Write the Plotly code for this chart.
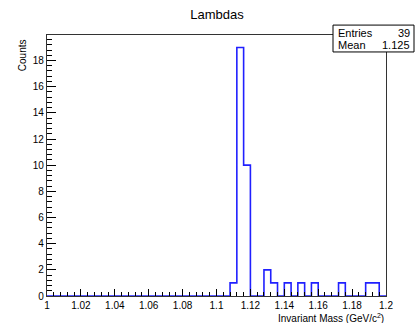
import plotly.graph_objects as go

# Histogram definition: 50 bins between 1.0 and 1.2 GeV/c^2
x_min = 1.0
x_max = 1.2
n_bins = 50
counts = [0] * 27 + [1, 19, 10, 0, 0, 2, 1, 0, 1, 0, 1, 0, 1, 0, 0, 0, 1, 0, 0, 0, 1, 1, 0, 0]

entries = 39
mean = 1.125

x_tick_vals = [1.0, 1.02, 1.04, 1.06, 1.08, 1.1, 1.12, 1.14, 1.16, 1.18, 1.2]
x_tick_text = ["1", "1.02", "1.04", "1.06", "1.08", "1.1", "1.12", "1.14", "1.16", "1.18", "1.2"]
y_tick_vals = [0, 2, 4, 6, 8, 10, 12, 14, 16, 18]

width = (x_max - x_min) / n_bins
edges = [x_min + i * width for i in range(n_bins + 1)]

# step outline of the histogram
step_x = [edges[0]] + edges
step_y = [0] + counts + [counts[-1]]
step_x.append(edges[-1])
step_y.append(0)

fig = go.Figure()
fig.add_trace(go.Scatter(
    x=step_x, y=step_y, mode="lines", line_shape="hv",
    line=dict(color="#2020ff", width=1.6), hoverinfo="skip", showlegend=False,
))

font = "Liberation Sans, Arial, Helvetica, sans-serif"

fig.update_layout(
    width=416, height=323,
    margin=dict(l=47, r=30, t=35, b=25),
    paper_bgcolor="white", plot_bgcolor="white",
    font=dict(family=font, size=10, color="black"),
    title=dict(text="Lambdas", x=0.5215, xanchor="center", y=0.955, yanchor="middle",
               font=dict(size=13, family=font)),
    xaxis=dict(
        range=[x_min, x_max], tickvals=x_tick_vals, ticktext=x_tick_text,
        ticks="inside", ticklen=7, tickwidth=1, tickcolor="black",
        minor=dict(dtick=width, tick0=x_min, ticks="inside", ticklen=4, tickcolor="black", showgrid=False),
        showgrid=False, zeroline=False, showline=True, linecolor="#333333", linewidth=1.2, mirror=True,
        tickfont=dict(size=10), title=None,
    ),
    yaxis=dict(
        range=[0, 19.95], tickvals=y_tick_vals,
        ticks="inside", ticklen=9, tickwidth=1, tickcolor="black",
        minor=dict(dtick=0.4, tick0=0, ticks="inside", ticklen=5, tickcolor="black", showgrid=False),
        showgrid=False, zeroline=False, showline=True, linecolor="#333333", linewidth=1.2, mirror=True,
        tickfont=dict(size=10), title=None,
    ),
)

# axis titles, ROOT style (right/top aligned)
fig.add_annotation(text="Invariant Mass (GeV/c<sup>2</sup>)", xref="paper", yref="paper",
                   x=1.0, y=-0.055, xanchor="right", yanchor="top", showarrow=False,
                   font=dict(size=10, family=font))
fig.add_annotation(text="Counts", xref="paper", yref="paper", textangle=-90,
                   x=-0.072, y=0.99, xanchor="center", yanchor="top", showarrow=False,
                   font=dict(size=10, family=font))

# statistics box
bx0, bx1 = 0.8437, 1.0826
by0, by1 = 0.935, 1.038
fig.add_shape(type="rect", xref="paper", yref="paper", x0=bx0, x1=bx1, y0=by0, y1=by1,
              line=dict(color="black", width=1), fillcolor="white", layer="above")
ymid = (by0 + by1) / 2
for label, value, yy in [("Entries", f"{entries}", by1 - (by1 - ymid) / 2 - 0.003),
                         ("Mean", f"{mean:.3f}", ymid - (ymid - by0) / 2 + 0.002)]:
    fig.add_annotation(text=label, xref="paper", yref="paper", x=bx0 + 0.008, y=yy,
                       xanchor="left", yanchor="middle", showarrow=False,
                       font=dict(size=11, family=font))
    fig.add_annotation(text=value, xref="paper", yref="paper", x=bx1 - 0.006, y=yy,
                       xanchor="right", yanchor="middle", showarrow=False,
                       font=dict(size=11, family=font))

fig.write_html("out.html")
